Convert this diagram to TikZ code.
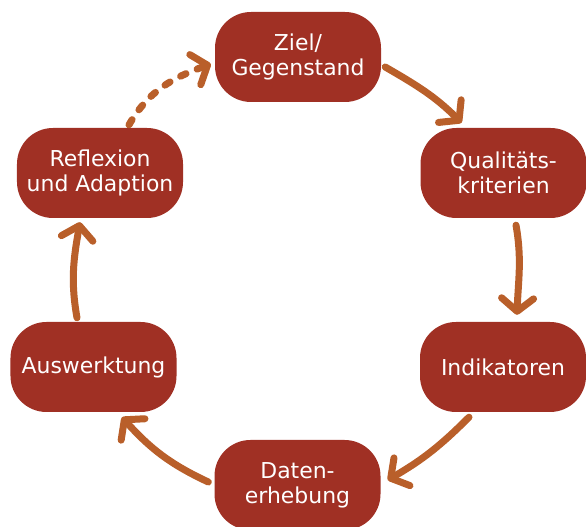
\documentclass[tikz,border=0pt]{standalone}
\usepackage{fontspec}
\setmainfont{DejaVu Sans}
\usepackage{tikz}
\usetikzlibrary{arrows.meta,calc}
\definecolor{boxred}{HTML}{A03024}
\definecolor{arrorange}{HTML}{B95F2A}
\tikzset{
    stepbox/.style={rectangle, rounded corners=36bp, fill=boxred, text=white,
        minimum width=166bp, minimum height=90bp, align=center,
        font=\fontsize{22}{25}\selectfont},
    flow/.style={arrorange, line width=7bp, line cap=round,
        -{Straight Barb[length=13bp,width=32bp,round]}},
    flowdash/.style={flow, dash pattern=on 6bp off 12bp}
}
\begin{document}
\begin{tikzpicture}[x=1bp,y=1bp]
    \useasboundingbox (0,0) rectangle (586,527);

    \node [stepbox] (ziel) at (298,470) {Ziel/\\Gegenstand};
    \node [stepbox] (quali) at (503.5,354) {Qualitäts-\\kriterien};
    \node [stepbox] (indik) at (503,160) {Indikatoren};
    \node [stepbox] (daten) at (297.5,42) {Daten-\\erhebung};
    \node [stepbox] (ausw) at (93.5,160) {Auswerktung};
    \node [stepbox] (reflex) at (100,354) {Reflexion\\und Adaption};

    %for ziel
    \draw [flow] ($(ziel.east)+(4,-10)$) to[out=-30,in=135] ($(quali.north)+(-42,5)$);
    %for quali
    \draw [flow] ($(quali.south)+(12.5,-7)$) to[out=-80,in=88] ($(indik.north)+(14,7)$);
    %for indik
    \draw [flow] ($(indik.south)+(-34,-5)$) to[out=-135,in=30] ($(daten.east)+(7,5)$);
    %for daten
    \draw [flow] ($(daten.west)+(-6,3)$) to[out=155,in=-48] ($(ausw.south)+(28.5,-5)$);
    %for ausw
    \draw [flow] ($(ausw.north)+(-16.5,4)$) to[out=100,in=-100] ($(reflex.south)+(-20,-4)$);
    %for reflex
    \draw [flowdash] ($(reflex.north)+(29,3)$) to[out=60,in=-160] ($(ziel.west)+(-4,-7)$);

\end{tikzpicture}
\end{document}
